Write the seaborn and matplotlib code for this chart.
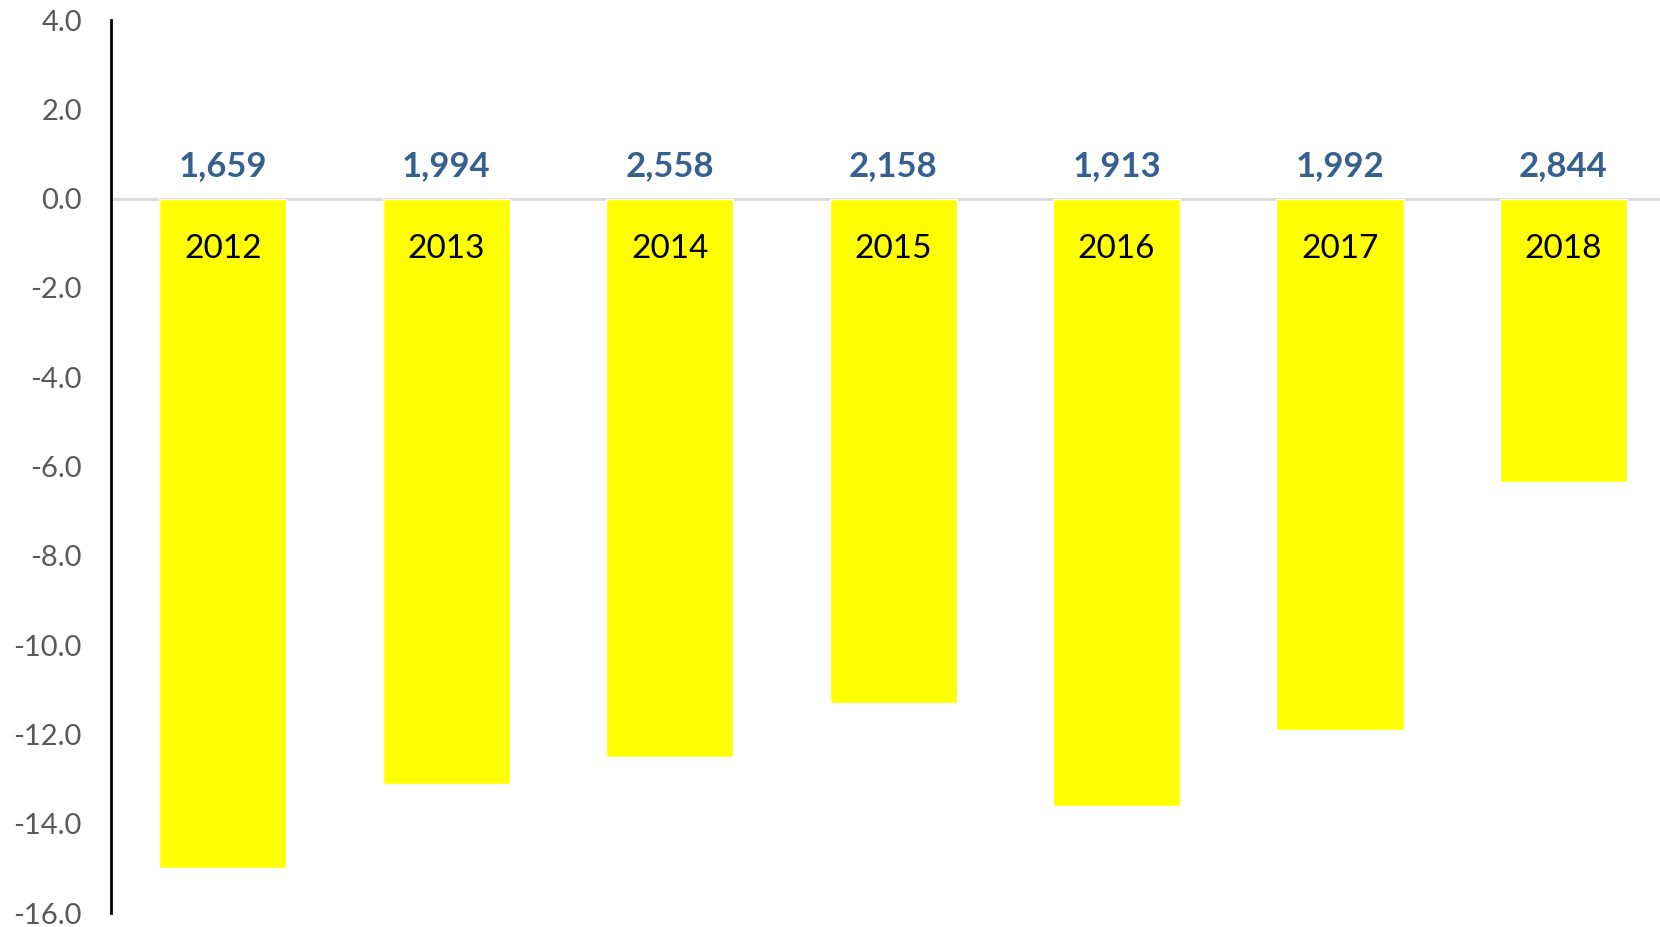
import pandas as pd
import numpy as np
import seaborn as sns
import matplotlib
matplotlib.use('Agg')
import matplotlib.pyplot as plt

# 数据
years = ['2012', '2013', '2014', '2015', '2016', '2017', '2018']
values = [-15.0, -13.1, -12.5, -11.3, -13.6, -11.9, -6.35]
counts = ['1,659', '1,994', '2,558', '2,158', '1,913', '1,992', '2,844']
yticks = [4.0, 2.0, 0.0, -2.0, -4.0, -6.0, -8.0, -10.0, -12.0, -14.0, -16.0]

df = pd.DataFrame({'year': years, 'value': values})

sns.set_style('white')
plt.rcParams['font.family'] = ['Lato', 'DejaVu Sans']

fig = plt.figure(figsize=(16.6, 9.27), dpi=100)
# 绘图区右侧略超出画布
ax = fig.add_axes([0.0669, 0.0151, 0.9422, 0.9633])

# 柱状图
sns.barplot(data=df, x='year', y='value', color='#FFFF00', width=0.569,
            saturation=1, ax=ax)

ax.set_ylim(-16, 4)
ax.set_xlim(-0.5, 6.5)
ax.set_yticks(yticks)
ax.set_yticklabels([f'{t:.1f}' for t in yticks], fontsize=21, color='#595959')
ax.tick_params(axis='y', length=0, pad=21)
ax.set_xticks([])
ax.set_xlabel('')
ax.set_ylabel('')

# 零线和坐标轴
ax.axhline(0, color='#D9D9D9', lw=2, zorder=0)
for s in ['top', 'right', 'bottom']:
    ax.spines[s].set_visible(False)
ax.spines['left'].set_color('black')
ax.spines['left'].set_linewidth(2)

# 标签
for i, (yr, c) in enumerate(zip(years, counts)):
    ax.text(i, 0.72, c, ha='center', va='center', fontsize=25,
            fontweight='bold', color='#35608F')
    ax.text(i, -1.12, yr, ha='center', va='center', fontsize=24, color='black')

plt.savefig('out.png', dpi=100)
